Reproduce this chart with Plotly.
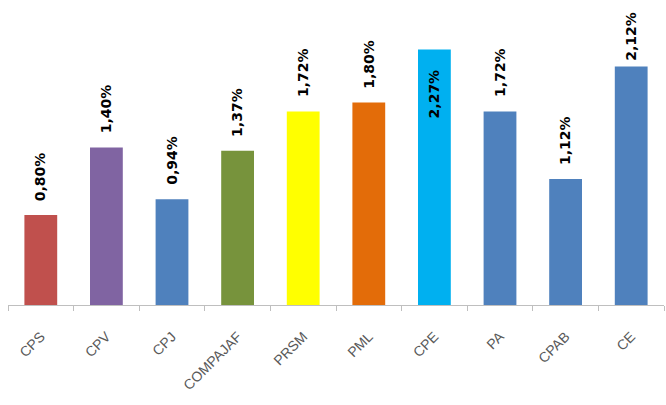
import plotly.graph_objects as go

# Categories and values (%)
categories = ['CPS', 'CPV', 'CPJ', 'COMPAJAF', 'PRSM', 'PML', 'CPE', 'PA', 'CPAB', 'CE']
values = [0.80, 1.40, 0.94, 1.37, 1.72, 1.80, 2.27, 1.72, 1.12, 2.12]
colors = ['#C0504D', '#8064A2', '#4F81BD', '#77933C', '#FFFF00',
          '#E36C09', '#00B0F0', '#4F81BD', '#4F81BD', '#4F81BD']

y_max = 2.71
plot_h = 305  # pixel height of plot area
px_per_unit = plot_h / y_max

fig = go.Figure(go.Bar(x=categories, y=values, marker_color=colors,
                       marker_line_width=0, width=0.5))

# Data labels, rotated, placed above bar unless they don't fit
label_len = 50
gap = 12
top_pad = 13
for cat, v in zip(categories, values):
    text = '<b>' + f'{v:.2f}'.replace('.', ',') + '%</b>'
    avail = (y_max - v) * px_per_unit - top_pad
    if avail >= label_len:
        yanchor, shift = 'bottom', min(gap, avail - label_len)
    else:
        yanchor, shift = 'top', -18
    fig.add_annotation(x=cat, y=v, text=text, textangle=-90, showarrow=False,
                       xanchor='center', yanchor=yanchor, yshift=shift,
                       font=dict(family='DejaVu Sans', size=14, color='black'))

fig.update_layout(
    width=666, height=405,
    margin=dict(l=8, r=2, t=0, b=100),
    paper_bgcolor='white', plot_bgcolor='white',
    showlegend=False,
    bargap=0.5,
)
fig.update_xaxes(showline=True, linecolor='#BFBFBF', linewidth=1, automargin=False,
                 ticks='outside', tickson='boundaries', ticklen=5, tickcolor='#BFBFBF',
                 tickangle=-45, ticklabelstandoff=17,
                 tickfont=dict(family='Liberation Sans', size=14, color='#595959'))
fig.update_yaxes(range=[0, y_max], visible=False, showgrid=False, automargin=False)

# remove the default page margin so the figure sits at the window corner
fig.write_html("out.html", config={'displayModeBar': False},
               post_script="document.body.style.margin='0';")
